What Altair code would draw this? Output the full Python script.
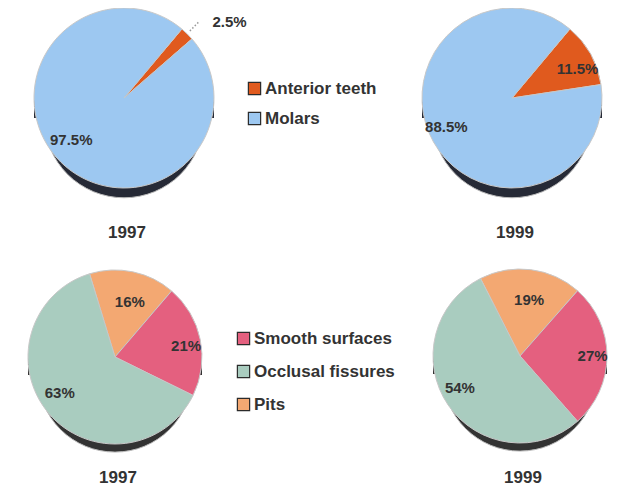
import math
import altair as alt
import pandas as pd

# ---- data ----
top_categories = ["Anterior teeth", "Molars"]
top_1997 = [2.5, 97.5]
top_1999 = [11.5, 88.5]

bottom_categories = ["Pits", "Smooth surfaces", "Occlusal fissures"]
bottom_1997 = [16, 21, 63]
bottom_1999 = [19, 27, 54]

top_legend_order = ["Anterior teeth", "Molars"]
bottom_legend_order = ["Smooth surfaces", "Occlusal fissures", "Pits"]
top_colors = ["#E05A1E", "#9DC8F1"]
bottom_colors = ["#E4607F", "#A9CCBF", "#F3A872"]
years = ["1997", "1999"]

FONT = "Liberation Sans"


def pie(cats, vals, cx, cy, r, depth, start_deg, domain, colors, shadow,
        legend, year, ty, tbase, lrx, lry):
    df = pd.DataFrame({"cat": cats, "pct": vals, "i": list(range(len(cats)))})
    df["label"] = [f"{v:g}%" for v in vals]
    start = math.radians(start_deg)
    theta = alt.Theta("pct:Q", stack=True,
                      scale=alt.Scale(range=[start, start + 2 * math.pi]))
    color = alt.Color("cat:N", scale=alt.Scale(domain=domain, range=colors),
                      legend=legend)
    one = pd.DataFrame({"year": [year]})

    side_rect = alt.Chart(one).mark_rect(color=shadow).encode(
        x=alt.value(cx - r), x2=alt.value(cx + r),
        y=alt.value(cy), y2=alt.value(cy + depth))
    side_circle = alt.Chart(one).mark_circle(
        color=shadow, opacity=1, size=math.pi * r * r,
        stroke="#bbbbbb", strokeWidth=1).encode(
        x=alt.value(cx), y=alt.value(cy + depth))

    arcs = alt.Chart(df).mark_arc(radius=r, stroke="#c8c8c8", strokeWidth=1).encode(
        theta=theta, order=alt.Order("i:Q"), color=color,
        x=alt.value(cx), y=alt.value(cy))

    stacked = alt.Chart(df).transform_stack(
        stack="pct", groupby=[], as_=["s0", "s1"], sort=[alt.SortField("i")]
    ).transform_calculate(
        a=f"{start} + (datum.s0 + datum.s1) / 200 * 2 * PI",
        kx="datum.pct < 5 ? 1.32 : 0.66",
        ky="datum.pct < 5 ? 1.2 : 0.66",
    ).transform_calculate(
        lx=f"{cx} + datum.kx * {lrx} * sin(datum.a)",
        ly=f"{cy} - datum.ky * {lry} * cos(datum.a)",
        ax=f"{cx} + {r + 4} * sin(datum.a)",
        ay=f"{cy} - {r + 4} * cos(datum.a)",
        bx=f"{cx} + {r + 17} * sin(datum.a)",
        by=f"{cy} - {r + 17} * cos(datum.a)",
    )
    labels = stacked.mark_text(
        font=FONT, fontWeight="bold", fontSize=15, color="#333333").encode(
        text="label:N",
        x=alt.X("lx:Q", scale=None), y=alt.Y("ly:Q", scale=None))
    leader = stacked.transform_filter("datum.pct < 5").mark_rule(
        color="#9a9a9a", strokeWidth=1.5, strokeDash=[1.5, 2]).encode(
        x=alt.X("ax:Q", scale=None), y=alt.Y("ay:Q", scale=None),
        x2="bx:Q", y2="by:Q")
    title = alt.Chart(one).mark_text(
        font=FONT, fontWeight="bold", fontSize=17, color="#333333",
        baseline=tbase).encode(
        text="year:N", x=alt.value(cx + 3), y=alt.value(ty))
    layers = [side_rect, side_circle, arcs, leader, labels, title]
    return alt.layer(*layers)


def legend(x, y, pad):
    return alt.Legend(
        orient="none", legendX=x, legendY=y, title=None, padding=0,
        symbolType="square", symbolSize=150, symbolStrokeColor="#2b2b2b",
        symbolStrokeWidth=1.2, symbolOpacity=1,
        labelFont=FONT, labelFontWeight="bold", labelFontSize=17,
        labelColor="#333333", labelOffset=2, rowPadding=pad)


p1 = pie(top_categories, top_1997, 116, 90, 90, 20, 40, top_legend_order,
         top_colors, "#262A36", legend(238, 72, 11), years[0], 225, "middle",
         114, 89)
p2 = pie(top_categories, top_1999, 504, 90, 90, 20, 40, top_legend_order,
         top_colors, "#262A36", None, years[1], 225, "middle", 114, 89)
p3 = pie(bottom_categories, bottom_1997, 107, 349, 87, 18, -17,
         bottom_legend_order, bottom_colors, "#333333",
         legend(227, 322, 14), years[0], 475, "alphabetic", 110, 85)
p4 = pie(bottom_categories, bottom_1999, 512, 348, 87, 18, -27,
         bottom_legend_order, bottom_colors, "#333333", None, years[1], 475,
         "alphabetic", 110, 85)

chart = alt.layer(p1, p2, p3, p4).resolve_scale(
    theta="independent", color="independent"
).properties(
    width=613, height=481, padding=0, autosize="none", background="white"
).configure_view(stroke=None)

chart.save("out.html", embed_options={"renderer": "svg", "actions": False})
